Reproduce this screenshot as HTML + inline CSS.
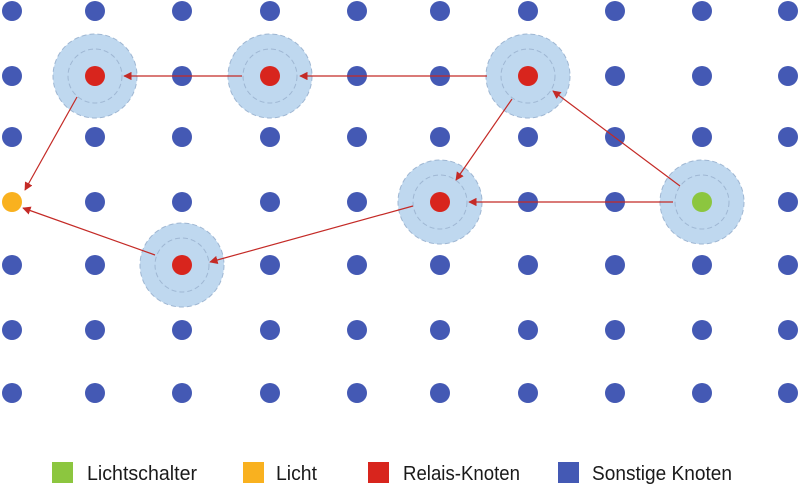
<!DOCTYPE html>
<html><head><style>body{margin:0;background:#fff}svg{display:block}</style></head><body>
<svg width="800" height="484" viewBox="0 0 800 484" xmlns="http://www.w3.org/2000/svg">
<defs><marker id="a" viewBox="0 0 10 10" refX="9" refY="5" markerWidth="7" markerHeight="7" orient="auto"><path d="M0,0L10,5L0,10z" fill="#c42a26"/></marker></defs>
<g fill="#4459b4">
<circle cx="12" cy="11" r="10"/><circle cx="95" cy="11" r="10"/><circle cx="182" cy="11" r="10"/><circle cx="270" cy="11" r="10"/><circle cx="357" cy="11" r="10"/><circle cx="440" cy="11" r="10"/><circle cx="528" cy="11" r="10"/><circle cx="615" cy="11" r="10"/><circle cx="702" cy="11" r="10"/><circle cx="788" cy="11" r="10"/>
<circle cx="12" cy="76" r="10"/><circle cx="95" cy="76" r="10"/><circle cx="182" cy="76" r="10"/><circle cx="270" cy="76" r="10"/><circle cx="357" cy="76" r="10"/><circle cx="440" cy="76" r="10"/><circle cx="528" cy="76" r="10"/><circle cx="615" cy="76" r="10"/><circle cx="702" cy="76" r="10"/><circle cx="788" cy="76" r="10"/>
<circle cx="12" cy="137" r="10"/><circle cx="95" cy="137" r="10"/><circle cx="182" cy="137" r="10"/><circle cx="270" cy="137" r="10"/><circle cx="357" cy="137" r="10"/><circle cx="440" cy="137" r="10"/><circle cx="528" cy="137" r="10"/><circle cx="615" cy="137" r="10"/><circle cx="702" cy="137" r="10"/><circle cx="788" cy="137" r="10"/>
<circle cx="95" cy="202" r="10"/><circle cx="182" cy="202" r="10"/><circle cx="270" cy="202" r="10"/><circle cx="357" cy="202" r="10"/><circle cx="440" cy="202" r="10"/><circle cx="528" cy="202" r="10"/><circle cx="615" cy="202" r="10"/><circle cx="702" cy="202" r="10"/><circle cx="788" cy="202" r="10"/>
<circle cx="12" cy="265" r="10"/><circle cx="95" cy="265" r="10"/><circle cx="182" cy="265" r="10"/><circle cx="270" cy="265" r="10"/><circle cx="357" cy="265" r="10"/><circle cx="440" cy="265" r="10"/><circle cx="528" cy="265" r="10"/><circle cx="615" cy="265" r="10"/><circle cx="702" cy="265" r="10"/><circle cx="788" cy="265" r="10"/>
<circle cx="12" cy="330" r="10"/><circle cx="95" cy="330" r="10"/><circle cx="182" cy="330" r="10"/><circle cx="270" cy="330" r="10"/><circle cx="357" cy="330" r="10"/><circle cx="440" cy="330" r="10"/><circle cx="528" cy="330" r="10"/><circle cx="615" cy="330" r="10"/><circle cx="702" cy="330" r="10"/><circle cx="788" cy="330" r="10"/>
<circle cx="12" cy="393" r="10"/><circle cx="95" cy="393" r="10"/><circle cx="182" cy="393" r="10"/><circle cx="270" cy="393" r="10"/><circle cx="357" cy="393" r="10"/><circle cx="440" cy="393" r="10"/><circle cx="528" cy="393" r="10"/><circle cx="615" cy="393" r="10"/><circle cx="702" cy="393" r="10"/><circle cx="788" cy="393" r="10"/>
</g>
<g fill="#bfd8ef" stroke="#9fb7d3" stroke-dasharray="5,3" stroke-width="1">
<circle cx="95" cy="76" r="42"/><circle cx="95" cy="76" r="27" fill="none"/>
<circle cx="270" cy="76" r="42"/><circle cx="270" cy="76" r="27" fill="none"/>
<circle cx="528" cy="76" r="42"/><circle cx="528" cy="76" r="27" fill="none"/>
<circle cx="440" cy="202" r="42"/><circle cx="440" cy="202" r="27" fill="none"/>
<circle cx="702" cy="202" r="42"/><circle cx="702" cy="202" r="27" fill="none"/>
<circle cx="182" cy="265" r="42"/><circle cx="182" cy="265" r="27" fill="none"/>
</g>
<g fill="#d8251d"><circle cx="95" cy="76" r="10"/><circle cx="270" cy="76" r="10"/><circle cx="528" cy="76" r="10"/><circle cx="440" cy="202" r="10"/><circle cx="182" cy="265" r="10"/></g>
<circle cx="702" cy="202" r="10" fill="#8cc63f"/>
<circle cx="12" cy="202" r="10" fill="#f9b11f"/>
<g stroke="#c42a26" stroke-width="1.2" marker-end="url(#a)">
<line x1="487" y1="76" x2="300" y2="76"/>
<line x1="242" y1="76" x2="124" y2="76"/>
<line x1="77" y1="97" x2="25" y2="190"/>
<line x1="512" y1="99" x2="456" y2="180"/>
<line x1="680" y1="186" x2="553" y2="91"/>
<line x1="673" y1="202" x2="469" y2="202"/>
<line x1="413" y1="206" x2="210" y2="262"/>
<line x1="155" y1="255" x2="23" y2="208"/>
</g>
<g font-family="Liberation Sans, sans-serif" font-size="20" fill="#1a1a1a">
<rect x="52" y="462" width="21" height="21" fill="#8cc63f"/><text x="87" y="480" textLength="110" lengthAdjust="spacingAndGlyphs">Lichtschalter</text>
<rect x="243" y="462" width="21" height="21" fill="#f9b11f"/><text x="276" y="480" textLength="41" lengthAdjust="spacingAndGlyphs">Licht</text>
<rect x="368" y="462" width="21" height="21" fill="#d8251d"/><text x="403" y="480" textLength="117" lengthAdjust="spacingAndGlyphs">Relais-Knoten</text>
<rect x="558" y="462" width="21" height="21" fill="#4459b4"/><text x="592" y="480" textLength="140" lengthAdjust="spacingAndGlyphs">Sonstige Knoten</text>
</g>
</svg>
</body></html>
